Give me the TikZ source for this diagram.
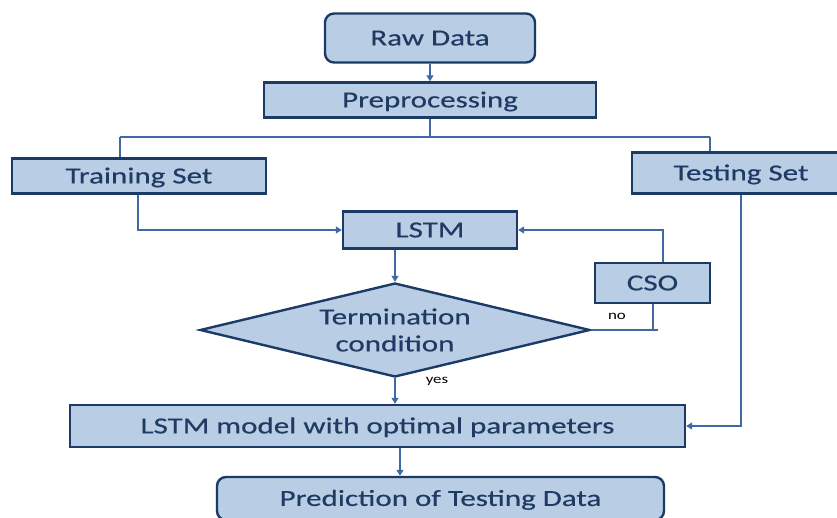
\documentclass[tikz,border=0pt]{standalone}
\usepackage{fontspec}
\setmainfont{Carlito}[FakeStretch=1.35,FakeBold=0.4]
\newfontfamily\smallfont{Carlito}[FakeStretch=1.3]
\usetikzlibrary{arrows.meta,shapes.geometric,calc}
\definecolor{boxfill}{HTML}{B9CDE5}
\definecolor{boxline}{HTML}{1B3A66}
\definecolor{boxtext}{HTML}{1F3A63}
\definecolor{conn}{HTML}{4068A2}
\tikzset{
  box/.style={draw=boxline, line width=2.4pt, fill=boxfill, text=boxtext,
    font=\fontsize{23}{27}\selectfont, inner sep=0pt},
  onel/.style={text height=14.8pt, text depth=0pt},
  rbox/.style={box, onel, rounded corners=9pt},
  sbox/.style={box, onel},
  conline/.style={draw=conn, line width=1.1pt},
  arr/.style={conline, -{Triangle[width=7pt,length=6pt]}},
  small/.style={font=\smallfont\fontsize{13}{15}\selectfont, text=black}
}
\begin{document}
\begin{tikzpicture}[x=1pt,y=-1pt]
\useasboundingbox (0,0) rectangle (837,518);
\node[rbox, minimum width=210pt, minimum height=49pt] (raw) at (430,38) {Raw Data};
\node[sbox, minimum width=332pt, minimum height=35pt] (pre) at (430,100) {Preprocessing};
\node[sbox, minimum width=254pt, minimum height=35pt] (train) at (139,176) {Training Set};
\node[sbox, minimum width=218pt, minimum height=41pt] (test) at (741,173) {Testing Set};
\node[sbox, minimum width=174pt, minimum height=37pt] (lstm) at (430,230) {LSTM};
\node[sbox, minimum width=115pt, minimum height=40pt] (cso) at (652.5,283) {CSO};
\node[box, diamond, aspect=4.15, minimum width=390pt, minimum height=94pt, align=center, font=\fontsize{23}{27}\selectfont] (dia) at (395,330) {Termination\\condition};
\node[sbox, minimum width=615pt, minimum height=42pt] (lmodel) at (377.5,426) {LSTM model with optimal parameters};
\node[rbox, minimum width=447pt, minimum height=43pt] (pred) at (440.5,498.5) {Prediction of Testing Data};

\coordinate (split) at (430,137);
\coordinate (trsplit) at (120,137);
\coordinate (tesplit) at (710,137);
\coordinate (trdown) at (138,230);
\coordinate (csoup) at (663,230);
\coordinate (nojoin) at (653,330);
\coordinate (noend) at (658,330);
\coordinate (predx) at (400,0);

\draw[arr] (raw.south) -- (pre.north);
\draw[conline] (pre.south) -- (split);
\draw[conline] (trsplit) -- (tesplit);
\draw[conline] (trsplit) -- (train.north -| trsplit);
\draw[conline] (tesplit) -- (test.north -| tesplit);
\draw[arr] (train.south -| trdown) |- (lstm.west);
\draw[arr] (cso.north -| csoup) |- (lstm.east);
\draw[arr] (lstm.south -| dia.north) -- (dia.north);
\draw[conline] (dia.east) -- (noend);
\draw[conline] (cso.south -| nojoin) -- (nojoin);
\node[small] (nolab) at (617,316) {no};
\draw[arr] (dia.south) -- (lmodel.north -| dia.south);
\node[small] (yeslab) at (437,381) {yes};
\draw[arr] (test.south) |- (lmodel.east);
\draw[arr] (lmodel.south -| predx) -- (pred.north -| predx);
\end{tikzpicture}
\end{document}
